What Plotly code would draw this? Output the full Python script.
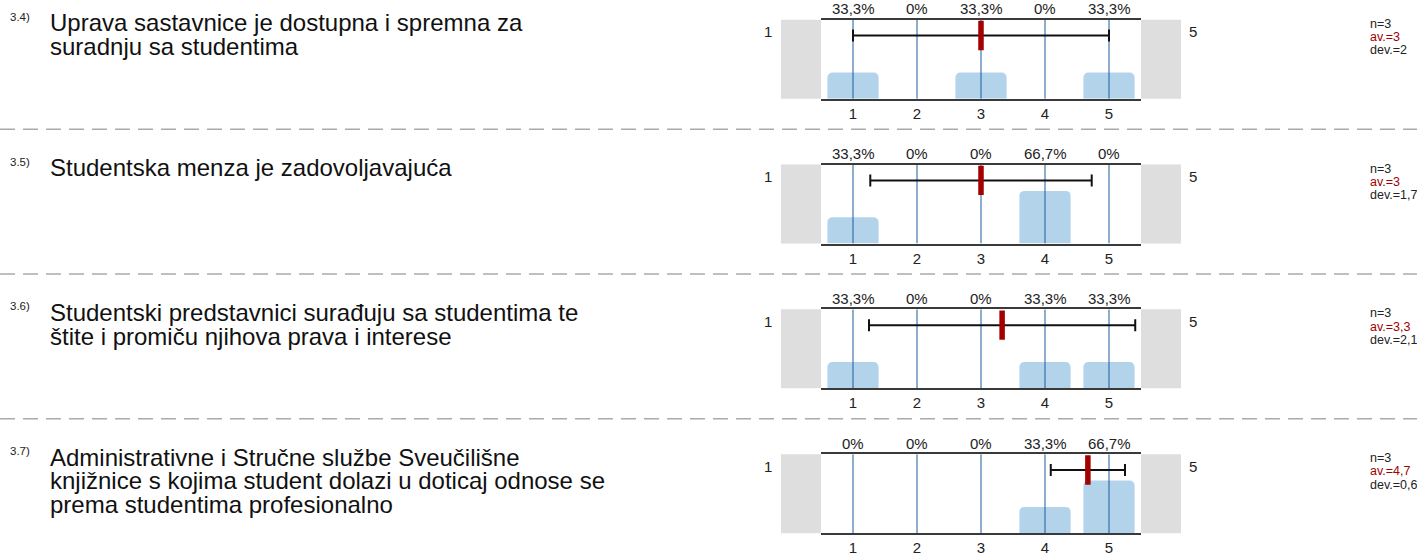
import plotly.graph_objects as go

# ---------------- data ----------------
question_ids = ["3.4)", "3.5)", "3.6)", "3.7)"]
question_lines = [
    ["Uprava sastavnice je dostupna i spremna za", "suradnju sa studentima"],
    ["Studentska menza je zadovoljavajuća"],
    ["Studentski predstavnici surađuju sa studentima te", "štite i promiču njihova prava i interese"],
    ["Administrativne i Stručne službe Sveučilišne",
     "knjižnice s kojima student dolazi u doticaj odnose se",
     "prema studentima profesionalno"],
]
categories = [1, 2, 3, 4, 5]
tick_labels = ["1", "2", "3", "4", "5"]
pct_34 = [33.3, 0, 33.3, 0, 33.3]
pct_35 = [33.3, 0, 0, 66.7, 0]
pct_36 = [33.3, 0, 0, 33.3, 33.3]
pct_37 = [0, 0, 0, 33.3, 66.7]
percentages = [pct_34, pct_35, pct_36, pct_37]
pct_labels_34 = ["33,3%", "0%", "33,3%", "0%", "33,3%"]
pct_labels_35 = ["33,3%", "0%", "0%", "66,7%", "0%"]
pct_labels_36 = ["33,3%", "0%", "0%", "33,3%", "33,3%"]
pct_labels_37 = ["0%", "0%", "0%", "33,3%", "66,7%"]
pct_labels = [pct_labels_34, pct_labels_35, pct_labels_36, pct_labels_37]
means = [3.0, 3.0, 3.33, 4.67]
devs = [2.0, 1.73, 2.08, 0.58]
n_values = ["3", "3", "3", "3"]
av_labels = ["3", "3", "3,3", "4,7"]
dev_labels = ["2", "1,7", "2,1", "0,6"]
scale_left = "1"
scale_right = "5"

# ---------------- layout helpers ----------------
W, H = 1417, 556
FONT = "Liberation Sans, Arial, sans-serif"
PANEL_TOPS = [20, 166.7, 313.3, 460]
PANEL_H = 80
X0, X1 = 821, 1141
BAR_BLUE = "#b3d3eb"
GRID_BLUE = "#1f5a9e"
MEAN_RED = "#a30000"
ERR_LEVEL = 80


def px(x):
    return x / W


def py(y):
    return 1 - y / H


fig = go.Figure()
shapes = []
annotations = []

for i in range(4):
    k = "" if i == 0 else str(i + 1)
    xa, ya = "x" + k, "y" + k
    top = PANEL_TOPS[i]
    bot = top + PANEL_H

    # bars
    fig.add_trace(go.Bar(x=categories, y=percentages[i], width=0.8,
                         marker=dict(color=BAR_BLUE, line=dict(width=0)),
                         xaxis=xa, yaxis=ya, hoverinfo="skip", showlegend=False))
    # vertical category lines
    gx, gy = [], []
    for c in categories:
        gx += [c, c, None]
        gy += [0, 100, None]
    fig.add_trace(go.Scatter(x=gx, y=gy, mode="lines",
                             line=dict(color=GRID_BLUE, width=1),
                             xaxis=xa, yaxis=ya, hoverinfo="skip", showlegend=False))
    # deviation bar
    fig.add_trace(go.Scatter(x=[means[i]], y=[ERR_LEVEL], mode="markers",
                             marker=dict(color="rgba(0,0,0,0)", size=1),
                             error_x=dict(type="data", array=[devs[i]], visible=True,
                                          color="#111111", thickness=2, width=6),
                             xaxis=xa, yaxis=ya, hoverinfo="skip", showlegend=False))
    # mean marker
    fig.add_trace(go.Scatter(x=[means[i]], y=[ERR_LEVEL], mode="markers",
                             marker=dict(symbol="line-ns", size=21,
                                         line=dict(color=MEAN_RED, width=5.5)),
                             xaxis=xa, yaxis=ya, hoverinfo="skip", showlegend=False))

    fig.update_layout(**{
        "xaxis" + k: dict(domain=[px(X0), px(X1)], range=[0.5, 5.5], anchor=ya,
                          tickvals=categories, ticktext=tick_labels,
                          showline=True, mirror=True, linecolor="#3a3a3a", linewidth=2,
                          showgrid=False, zeroline=False, ticks="",
                          tickfont=dict(size=15, color="#222222", family=FONT),
                          fixedrange=True),
        "yaxis" + k: dict(domain=[py(bot), py(top)], range=[0, 100], anchor=xa,
                          showline=False, showgrid=False, zeroline=False,
                          showticklabels=False, ticks="", fixedrange=True),
    })

    # grey end boxes
    for a, b in [(781, X0), (X1, 1181)]:
        shapes.append(dict(type="rect", xref="paper", yref="paper",
                           x0=px(a), x1=px(b), y0=py(bot), y1=py(top),
                           fillcolor="#dedede", line=dict(width=0), layer="below"))

    # percentage labels above
    for c, t in zip(categories, pct_labels[i]):
        annotations.append(dict(x=c, xref=xa, y=py(top - 11), yref="paper",
                                text=t, showarrow=False, xanchor="center", yanchor="middle",
                                font=dict(size=15, color="#222222", family=FONT)))

    # scale end labels
    annotations.append(dict(x=px(768), y=py(top + 12), xref="paper", yref="paper",
                            text=scale_left, showarrow=False, xanchor="center", yanchor="middle",
                            font=dict(size=15, color="#222222", family=FONT)))
    annotations.append(dict(x=px(1193), y=py(top + 12), xref="paper", yref="paper",
                            text=scale_right, showarrow=False, xanchor="center", yanchor="middle",
                            font=dict(size=15, color="#222222", family=FONT)))

    # question id and text
    annotations.append(dict(x=px(8), y=py(top - 3), xref="paper", yref="paper",
                            text=question_ids[i], showarrow=False, xanchor="left", yanchor="middle",
                            font=dict(size=11.5, color="#222222", family=FONT)))
    for j, line in enumerate(question_lines[i]):
        annotations.append(dict(x=px(48), y=py(top + 3 + 24 * j), xref="paper", yref="paper",
                                text=line, showarrow=False, xanchor="left", yanchor="middle",
                                font=dict(size=24, color="#111111", family=FONT)))

    # stats
    stats = [("n=" + n_values[i], "#222222"), ("av.=" + av_labels[i], MEAN_RED),
             ("dev.=" + dev_labels[i], "#222222")]
    for j, (t, col) in enumerate(stats):
        annotations.append(dict(x=px(1368), y=py(top + 4 + 13.5 * j), xref="paper", yref="paper",
                                text=t, showarrow=False, xanchor="left", yanchor="middle",
                                font=dict(size=12.5, color=col, family=FONT)))

# dashed separators
for yy in [131, 277.5, 424]:
    shapes.append(dict(type="line", xref="paper", yref="paper", x0=0, x1=1, y0=py(yy), y1=py(yy),
                       line=dict(color="#aaaaaa", width=1.5, dash="15px,8px")))

fig.update_layout(width=W, height=H, margin=dict(l=0, r=0, t=0, b=0),
                  paper_bgcolor="white", plot_bgcolor="white",
                  barcornerradius=5, showlegend=False,
                  shapes=shapes, annotations=annotations)

fig.write_html("out.html", config={"displayModeBar": False},
               post_script="document.body.style.margin='0px';document.body.style.overflow='hidden';")
